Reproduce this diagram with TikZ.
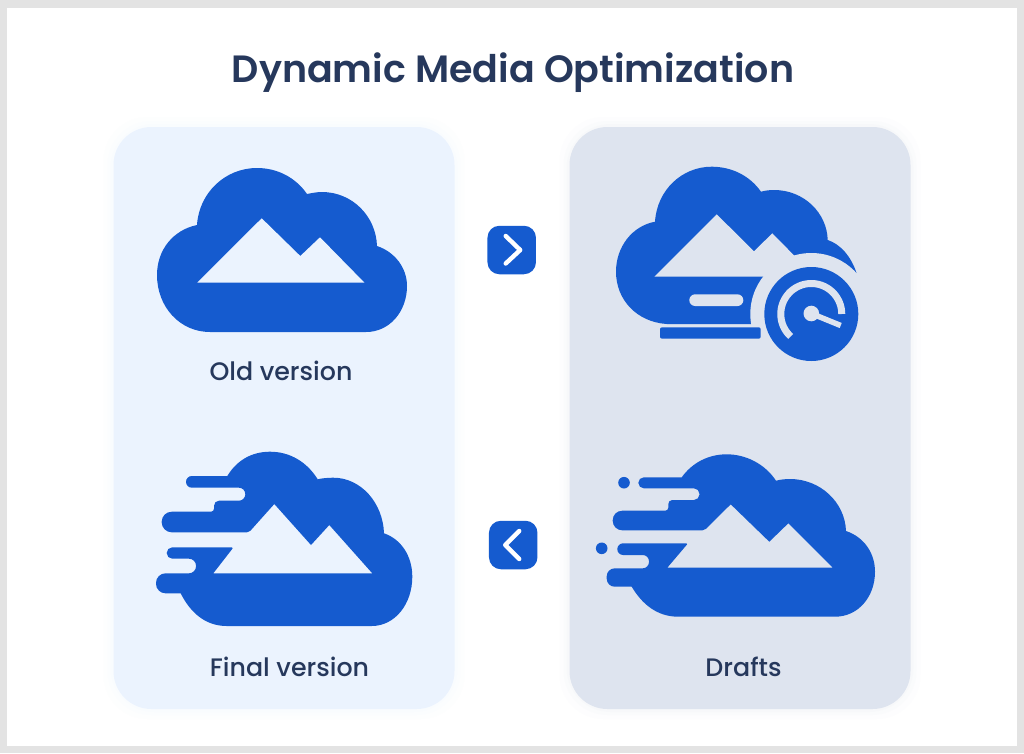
\documentclass[tikz,border=0pt]{standalone}
\usepackage{xcolor}
\usepackage{fontspec}
\usepackage{tikz}
\usetikzlibrary{positioning}
\setmainfont{Poppins}
\newfontfamily\titlefont{Poppins SemiBold}
\newfontfamily\labelfont{Poppins Medium}
\definecolor{framegray}{RGB}{227, 227, 227}
\definecolor{iconblue}{RGB}{21, 91, 207}
\definecolor{inkblue}{RGB}{38, 56, 92}
\definecolor{panellight}{RGB}{235, 243, 254}
\definecolor{paneldark}{RGB}{222, 228, 239}
\tikzset{
    panelbox/.style={fill=#1, rounded corners=38pt, minimum width=341pt, minimum height=582pt, inner sep=0pt, outer sep=0pt},
    btnbox/.style={fill=iconblue, rounded corners=12pt, minimum size=48.5pt, inner sep=0pt, outer sep=0pt},
    chevron/.style={white, line width=4.4pt, line cap=round, line join=round},
    caption/.style={font=\labelfont\fontsize{25.3}{30}\selectfont, text=inkblue, inner sep=0pt},
}
\begin{document}
\begin{tikzpicture}[x=1pt, y=-1pt]
    \useasboundingbox (0,0) rectangle (1024,753);
    % Outer frame
    \fill[framegray] (0,0) rectangle (1024,753);
    \fill[white] (7,8) rectangle (1017,746);
    \node[font=\titlefont\fontsize{38}{46}\selectfont, text=inkblue, inner sep=0pt] (title) at (513,72.5) {Dynamic Media Optimization};
    % Soft glow round the panels
    \foreach \g/\o in {10/6, 6/8, 3/10} {
        \fill[panellight, opacity=\o/100, rounded corners=44pt] (113.5-\g,127-\g) rectangle (454.5+\g,709+\g);
        \fill[paneldark, opacity=\o/100, rounded corners=44pt] (569.5-\g,127-\g) rectangle (910.5+\g,709+\g);
    }
    % Panels
    \node[panelbox=panellight] (leftpanel) at (284,418) {};
    \node[panelbox=paneldark] (rightpanel) at (740,418) {};
    % Old version cloud
    \fill[iconblue] (197,225) .. controls (199,193) and (225,168) .. (257,168)
        .. controls (278,168) and (296,178) .. (307,194)
        .. controls (312,193) and (317,192) .. (322,192)
        .. controls (352,192) and (376,216) .. (377,246)
        .. controls (395,252) and (407,268) .. (407,286)
        .. controls (407,311) and (390,332) .. (366,332)
        -- (210,332) .. controls (180,332) and (157,307) .. (157,275)
        .. controls (157,250) and (173,230) .. (197,225) -- cycle;
    \fill[panellight] (197.3,282.5) -- (261.7,218.3) -- (300.3,256) -- (320,237.3) -- (364.3,282.5) -- cycle;
    % Drafts cloud with gauge
    \fill[iconblue] (655,221.7) .. controls (657,190) and (682,166.7) .. (711.7,166.7)
        .. controls (732,166.7) and (750,176) .. (761,191.7)
        .. controls (765,190.5) and (770,190) .. (774,190)
        .. controls (804,190) and (827,213) .. (827.7,240)
        .. controls (840,244) and (851,256) .. (856.5,273)
        -- (811,314) -- (751,324) -- (666.7,324)
        .. controls (637,322) and (616,300) .. (616,271.7)
        .. controls (616,247) and (632,226) .. (655,221.7) -- cycle;
    \fill[paneldark] (654.3,276.7) -- (716.7,214.3) -- (754,251.3) -- (772.3,233.3) -- (815,276.7) -- cycle;
    \fill[paneldark] (811.3,314) circle (61);
    \fill[paneldark, rounded corners=5.8pt] (689.3,294.3) rectangle (743.3,306);
    \fill[iconblue, rounded corners=2pt] (660,327.3) rectangle (760.7,338.7);
    \fill[iconblue] (811.3,314) circle (47);
    \draw[paneldark, line width=7pt] (811.3,314) ++(-20.6,22.5) arc[start angle=-227.6, end angle=0, radius=30.5];
    \fill[paneldark] (811.3,313.5) circle (7.8);
    \draw[paneldark, line width=5.5pt] (811.3,313.5) -- (840.7,325.5);
    % Final version cloud
    \fill[iconblue] (227.3,476) .. controls (237,460) and (252,451.7) .. (270,451.7)
        .. controls (290,451.7) and (307,462) .. (317.7,479.3)
        .. controls (322,478.2) and (328,477.7) .. (333.3,477.7)
        .. controls (361,477.7) and (383,503) .. (384,533.3)
        .. controls (401,539) and (412.3,556) .. (412.3,576.7)
        .. controls (412.3,604) and (395,626) .. (371.7,626)
        -- (226.7,626) .. controls (205,626) and (190,612) .. (180.7,593.3)
        [rounded corners=9.5pt] -- (156,593.3) -- (156,573.3)
        [rounded corners=7pt] -- (196,573.3) -- (196,558.7)
        [rounded corners=5.6pt] -- (166.7,558.7) -- (166.7,547.3)
        [rounded corners=1.5pt] -- (233.5,547.3)
        [sharp corners] -- (213.3,573.3) -- (372.3,573.3) -- (329.3,525) -- (311,545) -- (274.3,504)
        [rounded corners=2pt] -- (249,532.3)
        [rounded corners=10pt] -- (161.7,532.3) -- (161.7,511.7)
        [rounded corners=3pt] -- (214,511.7)
        [rounded corners=5pt] -- (214,500.7)
        [rounded corners=6.4pt] -- (245.3,500.7) -- (245.3,487.7)
        [rounded corners=5.8pt] -- (186,487.7) -- (186,476)
        [sharp corners] -- cycle;
    % Drafts speed cloud
    \fill[iconblue] (681.7,477.3) .. controls (692,463) and (708,454.3) .. (726.7,454.3)
        .. controls (746,454.3) and (765,464) .. (776,480.7)
        .. controls (780,479.6) and (785,479) .. (790,479)
        .. controls (820,479) and (845,502) .. (846,531)
        .. controls (864,537) and (875,553) .. (875,571.7)
        .. controls (875,597) and (858,616.7) .. (835,616.7)
        -- (678.3,616.7) .. controls (657,616.7) and (642,604) .. (631.7,586.7)
        [rounded corners=8pt] -- (606.7,586.7) -- (606.7,568.3)
        [rounded corners=6.3pt] -- (649,568.3) -- (649,555)
        [rounded corners=5.8pt] -- (617.3,555) -- (617.3,543.3)
        [rounded corners=1.5pt] -- (688,543.3)
        [sharp corners] -- (667.3,567.7) -- (832.7,567.7) -- (788.3,523.3) -- (769.3,541.7) -- (730.7,504.3)
        [rounded corners=2pt] -- (704.5,530.3)
        [rounded corners=9.5pt] -- (612.7,530.3) -- (612.7,510.7)
        [rounded corners=3pt] -- (668.3,510.7)
        [rounded corners=4pt] -- (668.3,500)
        [rounded corners=5.6pt] -- (699.5,500) -- (699.5,488.3)
        [rounded corners=5.5pt] -- (638.3,488.3) -- (638.3,477.3)
        [sharp corners] -- cycle;
    \fill[iconblue] (624,482.7) circle (5.8);
    \fill[iconblue] (601.7,548.3) circle (5.8);
    % Buttons
    \node[btnbox] (btnnext) at (511.7,250) {};
    \node[btnbox] (btnback) at (513.2,545) {};
    \draw[chevron] ([shift={(-6,-14)}]btnnext.center) -- ([shift={(8.5,0)}]btnnext.center) -- ([shift={(-6,13.5)}]btnnext.center);
    \draw[chevron] ([shift={(6,-14)}]btnback.center) -- ([shift={(-8,0)}]btnback.center) -- ([shift={(6,14)}]btnback.center);
    % Labels
    \node[caption] (oldlabel) at (281,371) {Old version};
    \node[caption] (finallabel) at (289.5,667) {Final version};
    \node[caption] (draftslabel) at (743.5,667) {Drafts};
\end{tikzpicture}
\end{document}
